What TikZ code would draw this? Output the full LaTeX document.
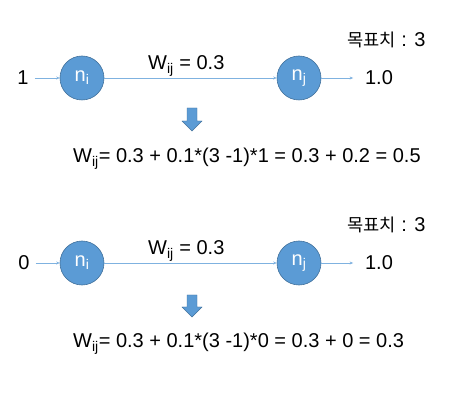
\documentclass[tikz,border=0pt]{standalone}
\usepackage{fontspec}
\setmainfont{Liberation Sans}
\newfontfamily\krfont[Scale=0.88]{Noto Sans CJK KR}
\usetikzlibrary{arrows.meta,positioning}

\definecolor{nodeblue}{HTML}{5B9BD5}
\definecolor{nodeedge}{HTML}{41719C}
\definecolor{linkblue}{HTML}{7FB2E0}

\begin{document}
\begin{tikzpicture}[
  x=1pt, y=-1pt,
  font=\fontsize{20}{24}\selectfont,
  val/.style={inner sep=0pt, text=black},
  neuron/.style={circle, draw=nodeedge, fill=nodeblue, line width=0.6pt,
                 minimum size=44pt, inner sep=0pt, text=white},
  link/.style={draw=linkblue, line width=0.7pt,
               -{Stealth[length=3.5pt,width=3pt]}},
  down/.style={fill=nodeblue, draw=nodeedge, line width=0.4pt},
]
\fill[white] (0,0) rectangle (464,401);
\useasboundingbox (0,0) rectangle (464,401);

%% ====================================================
%% Row 1: input 1
%% ====================================================
\node[val] (in1) at (23,78) {1};
\node[neuron] (ni1) at (82,78) {n\textsubscript{i}};
\node[neuron] (nj1) at (299,78) {n\textsubscript{j}};
\node[val, outer xsep=12pt] (out1) at (379,78) {1.0};
\node[val, anchor=base west] (w1) at (148,70) {W\textsubscript{ij} = 0.3};
\node[val, anchor=base west] (goal1) at (347,47) {{\krfont 목표치} : 3};

\draw[link] ([xshift=6pt]in1.east) -- (ni1);
\draw[link] (ni1) -- (nj1);
\draw[link] (nj1) -- (out1);

%% Down arrow + update
\draw[down] (187,108) -- (197,108) -- (197,121) -- (202,121)
  -- (192,131) -- (182,121) -- (187,121) -- cycle;
\node[val, anchor=base west] (eq1) at (73,163)
  {W\textsubscript{ij}= 0.3 + 0.1*(3 -1)*1 = 0.3 + 0.2 = 0.5};

%% ====================================================
%% Row 2: input 0
%% ====================================================
\node[val] (in2) at (24,263) {0};
\node[neuron] (ni2) at (82,263) {n\textsubscript{i}};
\node[neuron] (nj2) at (299,263) {n\textsubscript{j}};
\node[val, outer xsep=12pt] (out2) at (379,263) {1.0};
\node[val, anchor=base west] (w2) at (148,255) {W\textsubscript{ij} = 0.3};
\node[val, anchor=base west] (goal2) at (347,232) {{\krfont 목표치} : 3};

\draw[link] ([xshift=6pt]in2.east) -- (ni2);
\draw[link] (ni2) -- (nj2);
\draw[link] (nj2) -- (out2);

%% Down arrow + update
\draw[down] (187,295) -- (197,295) -- (197,307) -- (202,307)
  -- (192,317) -- (182,307) -- (187,307) -- cycle;
\node[val, anchor=base west] (eq2) at (73,348)
  {W\textsubscript{ij}= 0.3 + 0.1*(3 -1)*0 = 0.3 + 0 = 0.3};

\end{tikzpicture}
\end{document}
